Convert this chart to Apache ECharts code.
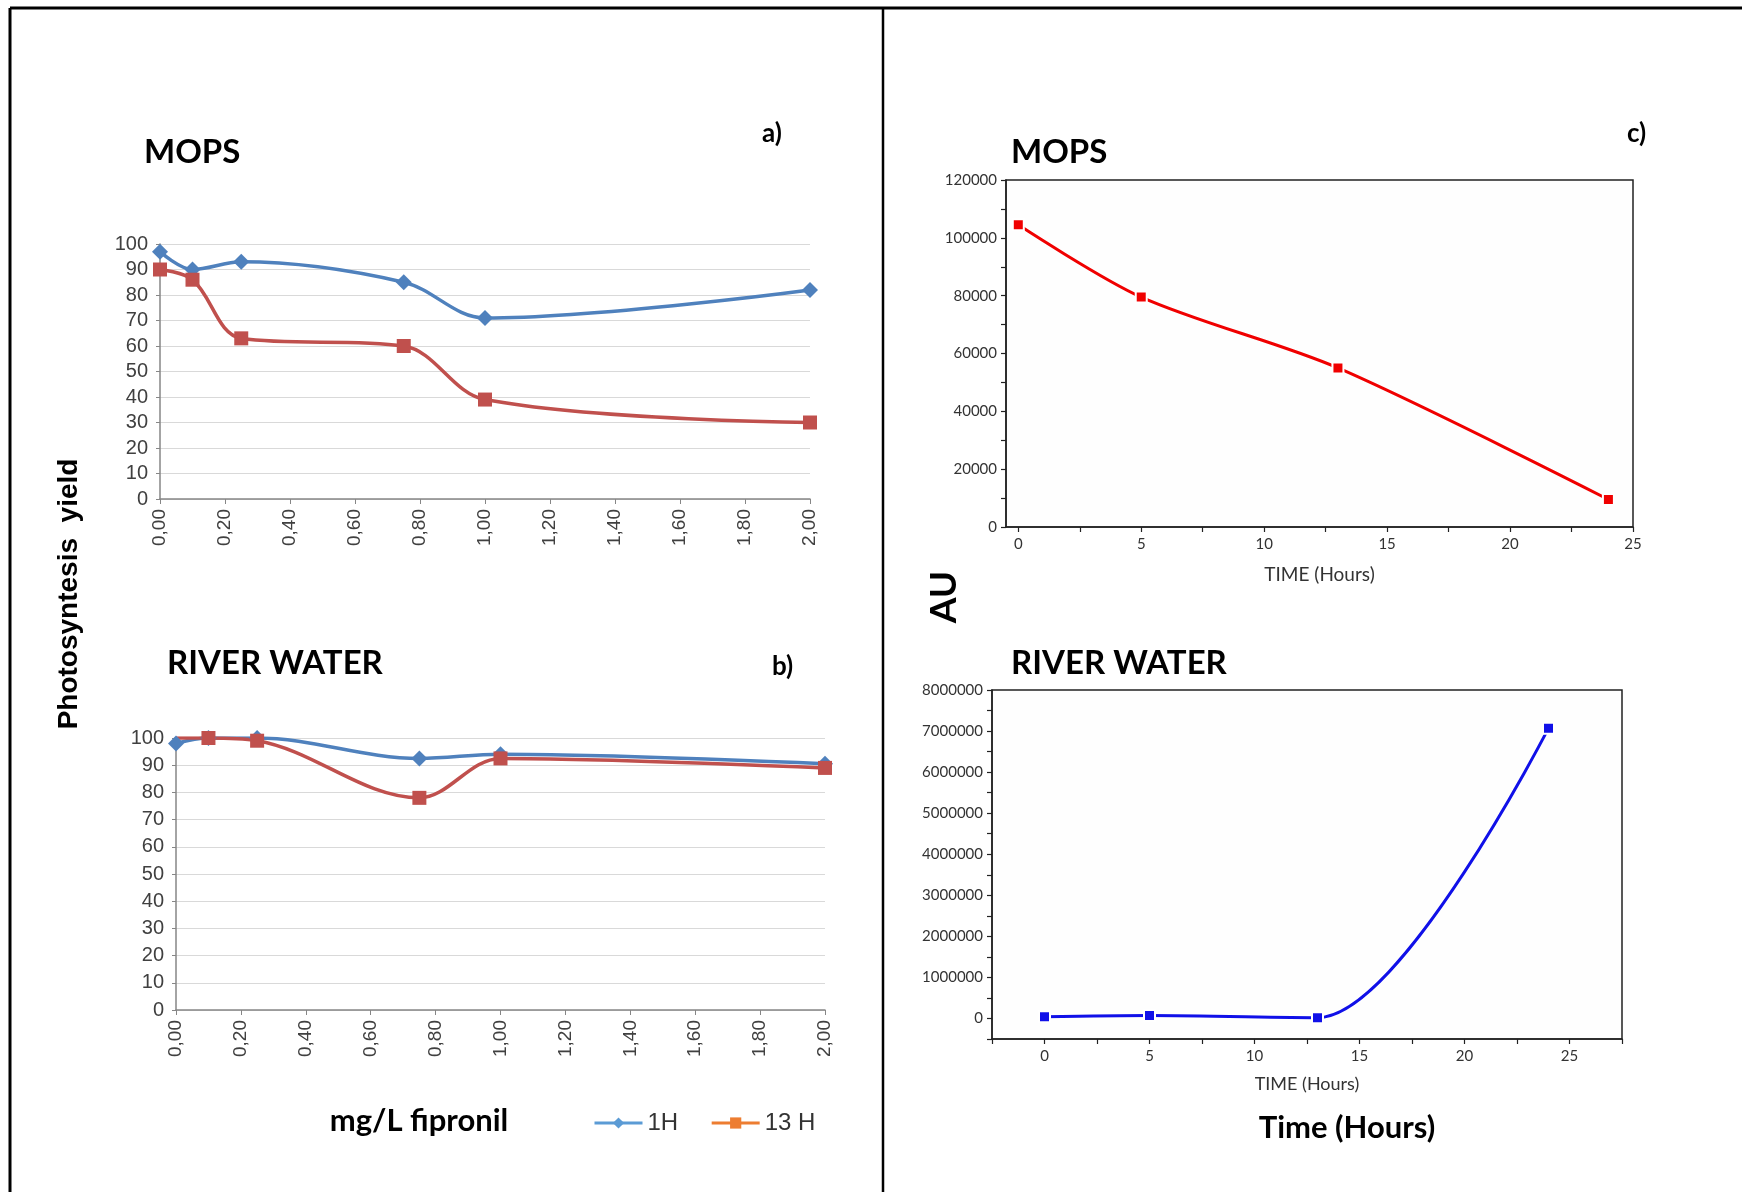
<!DOCTYPE html>
<html>
<head>
<meta charset="utf-8">
<script src="https://cdn.jsdelivr.net/npm/echarts@6/dist/echarts.min.js"></script>
<style>
  html, body { margin: 0; padding: 0; background: #fff; }
  #chart { width: 1742px; height: 1192px; }
</style>
</head>
<body>
<div id="chart"></div>
<script>
// fipronil dose (mg/L) for panels a) and b)
var doses = [0, 0.1, 0.25, 0.75, 1.0, 2.0];
var mops1H = [97, 90, 93, 85, 71, 82];
var mops13H = [90, 86, 63, 60, 39, 30];
var river1H = [98, 100, 100, 92.5, 94, 90.5];
var river13H = [100, 100, 99, 78, 92.5, 89];

// time (hours) for panels c) and d)
var hours = [0, 5, 13, 24];
var mopsAU = [104500, 79500, 55000, 9500];
var riverAU = [40000, 70000, 20000, 7070000];

var hourLabels = [0, 5, 10, 15, 20, 25];
var hourTicks = [0, 2.5, 5, 7.5, 10, 12.5, 15, 17.5, 20, 22.5, 25];

var BLUE = '#4F81BD', RED = '#C0504D';
var NARROW = '"Liberation Sans Narrow", "Liberation Sans", Arial, sans-serif';
var CAL = 'Lato, "Open Sans", sans-serif';

function pairs(xs, ys) {
    return xs.map(function (x, i) { return [x, ys[i]]; });
}

function doseAxis(grid) {
    return {
        type: 'value', gridIndex: grid, min: 0, max: 2, interval: 0.2,
        axisLine: { lineStyle: { color: '#868686', width: 1.5 } },
        axisTick: { show: true, length: 5, lineStyle: { color: '#868686' } },
        splitLine: { show: false },
        axisLabel: {
            rotate: 90, margin: 10, fontSize: 19, color: '#404040', fontFamily: NARROW,
            formatter: function (v) { return v.toFixed(2).replace('.', ','); }
        }
    };
}

function yieldAxis(grid) {
    return {
        type: 'value', gridIndex: grid, min: 0, max: 100, interval: 10,
        axisLine: { show: true, lineStyle: { color: '#868686', width: 1.5 } },
        axisTick: { show: true, length: 4, lineStyle: { color: '#868686' } },
        splitLine: { lineStyle: { color: '#D9D9D9', width: 1.2 } },
        axisLabel: { margin: 12, fontSize: 20, color: '#404040', fontFamily: NARROW }
    };
}

function originAxisStyle() {
    return {
        axisLine: { show: true, onZero: false, lineStyle: { color: '#222', width: 1.5 } },
        splitLine: { show: false },
        axisTick: { show: true, length: 5, lineStyle: { color: '#222', width: 1.2 } }
    };
}

var xC = Object.assign({
    type: 'value', gridIndex: 2, min: -0.5, max: 25,
    name: 'TIME (Hours)', nameLocation: 'middle', nameGap: 38,
    nameTextStyle: { fontSize: 19, color: '#333', fontFamily: CAL }
}, originAxisStyle());
xC.axisLabel = { customValues: hourLabels, margin: 10, fontSize: 15, color: '#333', fontFamily: CAL };
xC.axisTick.customValues = hourTicks;

var yC = Object.assign({
    type: 'value', gridIndex: 2, min: 0, max: 120000, interval: 10000
}, originAxisStyle());
yC.axisLabel = {
    margin: 9, fontSize: 15, color: '#333', fontFamily: CAL,
    formatter: function (v) { return v % 20000 === 0 ? String(v) : ''; }
};

var xD = Object.assign({
    type: 'value', gridIndex: 3, min: -2.5, max: 27.5, interval: 2.5,
    name: 'TIME (Hours)', nameLocation: 'middle', nameGap: 36,
    nameTextStyle: { fontSize: 18, color: '#333', fontFamily: CAL }
}, originAxisStyle());
xD.axisLabel = {
    margin: 10, fontSize: 15, color: '#333', fontFamily: CAL, showMinLabel: true, showMaxLabel: true,
    formatter: function (v) { return (v >= 0 && v <= 25 && v % 5 === 0) ? String(v) : ''; }
};

var yD = Object.assign({
    type: 'value', gridIndex: 3, min: -500000, max: 8000000, interval: 500000
}, originAxisStyle());
yD.axisLabel = {
    margin: 9, fontSize: 15, color: '#333', fontFamily: CAL,
    formatter: function (v) { return v % 1000000 === 0 ? String(v) : ''; }
};

function excelLine(name, xi, data, color, symbol, size, hideFirst) {
    return {
        name: name, type: 'line', xAxisIndex: xi, yAxisIndex: xi,
        data: data, smooth: 0.35,
        symbol: hideFirst ? function (v, p) { return p.dataIndex === 0 ? 'none' : symbol; } : symbol,
        symbolSize: size, showAllSymbol: true,
        lineStyle: { color: color, width: 3.5 },
        itemStyle: { color: color },
        emphasis: { disabled: true }
    };
}

function originLine(name, xi, data, color) {
    return {
        name: name, type: 'line', xAxisIndex: xi, yAxisIndex: xi,
        data: data, smooth: 0.3, symbol: 'rect', symbolSize: 11,
        lineStyle: { color: color, width: 3 },
        itemStyle: { color: color, borderColor: '#fff', borderWidth: 2 },
        emphasis: { disabled: true }
    };
}

function txt(text, x, y, font, opts) {
    opts = opts || {};
    return {
        type: 'text', x: x, y: y, rotation: opts.rotation || 0, z: 10,
        style: {
            text: text, font: font, fill: opts.fill || '#000',
            textAlign: opts.align || 'left', textVerticalAlign: 'middle'
        }
    };
}

function frameLine(x1, y1, x2, y2, w) {
    return { type: 'line', shape: { x1: x1, y1: y1, x2: x2, y2: y2 }, style: { stroke: '#000', lineWidth: w }, z: 20 };
}

var chart = echarts.init(document.getElementById('chart'));
chart.setOption({
    animation: false,
    backgroundColor: '#fff',
    grid: [
        { left: 160, top: 244, width: 650, height: 255 },
        { left: 176, top: 738, width: 649, height: 272 },
        { left: 1006, top: 180, width: 627, height: 347, show: true, borderColor: '#222', borderWidth: 1.5, backgroundColor: '#fefefe' },
        { left: 992, top: 690, width: 630, height: 349, show: true, borderColor: '#222', borderWidth: 1.5, backgroundColor: '#fefefe' }
    ],
    xAxis: [doseAxis(0), doseAxis(1), xC, xD],
    yAxis: [yieldAxis(0), yieldAxis(1), yC, yD],
    legend: {
        data: [
            { name: '1H', itemStyle: { color: '#5B9BD5' }, lineStyle: { color: '#5B9BD5', width: 3 } },
            { name: '13 H', itemStyle: { color: '#ED7D31' }, lineStyle: { color: '#ED7D31', width: 3 } }
        ],
        left: 588, top: 1106, itemWidth: 48, itemHeight: 14, itemGap: 32, itemSymbolSize: 12,
        selectedMode: false,
        textStyle: { fontSize: 24, color: '#333', fontFamily: NARROW }
    },
    graphic: [
        frameLine(10, 8, 1742, 8, 3),
        frameLine(10, 8, 10, 1192, 3),
        frameLine(883, 8, 883, 1192, 2.5),
        txt('MOPS', 144, 152, 'bold 33px ' + CAL),
        txt('a)', 762, 134, 'bold 26px ' + CAL),
        txt('RIVER WATER', 167, 663, 'bold 33px ' + CAL),
        txt('b)', 772, 667, 'bold 26px ' + CAL),
        txt('MOPS', 1011, 152, 'bold 33px ' + CAL),
        txt('c)', 1627, 134, 'bold 26px ' + CAL),
        txt('RIVER WATER', 1011, 663, 'bold 33px ' + CAL),
        txt('Photosyntesis  yield', 69, 594, 'bold 28px "Liberation Sans", Arial, sans-serif', { rotation: Math.PI / 2, align: 'center' }),
        txt('AU', 944, 597, 'bold 37px ' + CAL, { rotation: Math.PI / 2, align: 'center' }),
        txt('mg/L fipronil', 419, 1121, 'bold 31px ' + CAL, { align: 'center' }),
        txt('Time (Hours)', 1347, 1128, 'bold 31px ' + CAL, { align: 'center' })
    ],
    series: [
        excelLine('1H', 0, pairs(doses, mops1H), BLUE, 'diamond', 16),
        excelLine('13 H', 0, pairs(doses, mops13H), RED, 'rect', 14),
        excelLine('1H', 1, pairs(doses, river1H), BLUE, 'diamond', 16),
        excelLine('13 H', 1, pairs(doses, river13H), RED, 'rect', 14, true),
        originLine('MOPS AU', 2, pairs(hours, mopsAU), '#F00000'),
        originLine('RIVER WATER AU', 3, pairs(hours, riverAU), '#1010E8')
    ]
});
</script>
</body>
</html>
